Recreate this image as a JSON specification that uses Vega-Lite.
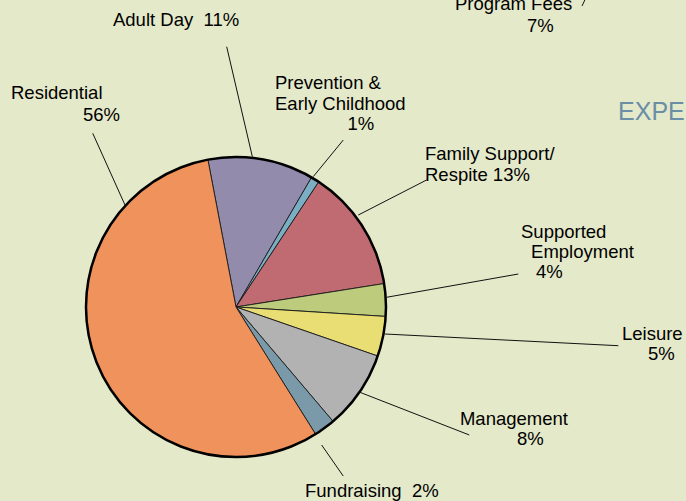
{
  "$schema": "https://vega.github.io/schema/vega-lite/v6.json",
  "width": 686,
  "height": 501,
  "padding": 0,
  "autosize": {"type": "none"},
  "background": "#E4E9C9",
  "config": {"view": {"stroke": null}},
  "datasets": {
    "slices": [
      {"category": "Adult Day", "value": 11.4, "order": 1},
      {"category": "Prevention & Early Childhood", "value": 0.9, "order": 2},
      {"category": "Family Support/Respite", "value": 13.2, "order": 3},
      {"category": "Supported Employment", "value": 3.5, "order": 4},
      {"category": "Leisure", "value": 4.3, "order": 5},
      {"category": "Management", "value": 8.5, "order": 6},
      {"category": "Fundraising", "value": 2.3, "order": 7},
      {"category": "Residential", "value": 55.9, "order": 8}
    ],
    "labels": [
      {"text": "Adult Day\u00a0 11%", "u": -82.0, "v": 187.3},
      {"text": "Residential", "u": -150.0, "v": 138.5},
      {"text": "56%", "u": -102.0, "v": 124.2},
      {"text": "Prevention &", "u": 26.0, "v": 145.1},
      {"text": "Early Childhood", "u": 26.0, "v": 131.3},
      {"text": "1%", "u": 74.3, "v": 118.0},
      {"text": "Family Support/", "u": 126.0, "v": 98.0},
      {"text": "Respite 13%", "u": 126.0, "v": 84.2},
      {"text": "Supported", "u": 190.0, "v": 46.0},
      {"text": "Employment", "u": 196.7, "v": 32.7},
      {"text": "4%", "u": 200.0, "v": 19.3},
      {"text": "Leisure", "u": 257.3, "v": -22.0},
      {"text": "5%", "u": 274.7, "v": -35.3},
      {"text": "Management", "u": 149.3, "v": -78.7},
      {"text": "8%", "u": 187.3, "v": -92.0},
      {"text": "Fundraising\u00a0 2%", "u": 46.0, "v": -126.7},
      {"text": "Program Fees", "u": 146.0, "v": 198.0},
      {"text": "7%", "u": 194.0, "v": 183.3}
    ],
    "leaders": [
      {"u": -95.5, "v": 115.8, "u2": -74.0, "v2": 68.0},
      {"u": -6.2, "v": 173.5, "u2": 10.9, "v2": 100.2},
      {"u": 71.5, "v": 111.3, "u2": 51.5, "v2": 86.9},
      {"u": 127.1, "v": 84.7, "u2": 81.5, "v2": 61.3},
      {"u": 188.2, "v": 22.0, "u2": 100.5, "v2": 6.5},
      {"u": 254.9, "v": -25.8, "u2": 99.3, "v2": -18.0},
      {"u": 155.5, "v": -85.3, "u2": 82.7, "v2": -56.9},
      {"u": 71.5, "v": -112.7, "u2": 57.1, "v2": -92.0},
      {"u": 232.7, "v": 205.0, "u2": 230.7, "v2": 200.7}
    ],
    "title": [{"text": "EXPE", "u": 254.7, "v": 124.7}]
  },
  "layer": [
    {
      "data": {"name": "leaders"},
      "mark": {"type": "rule", "stroke": "#111111", "strokeWidth": 1},
      "encoding": {
        "x": {"field": "u", "type": "quantitative", "scale": {"domain": [-157.33, 300], "nice": false, "zero": false}, "axis": null},
        "y": {"field": "v", "type": "quantitative", "scale": {"domain": [-129.33, 204.67], "nice": false, "zero": false}, "axis": null},
        "x2": {"field": "u2"},
        "y2": {"field": "v2"}
      }
    },
    {
      "data": {"name": "slices"},
      "mark": {"type": "arc", "outerRadius": 150, "stroke": "#1a1a1a", "strokeWidth": 0.9},
      "encoding": {
        "x": {"datum": 0, "type": "quantitative", "scale": {"domain": [-157.33, 300], "nice": false, "zero": false}, "axis": null},
        "y": {"datum": 0, "type": "quantitative", "scale": {"domain": [-129.33, 204.67], "nice": false, "zero": false}, "axis": null},
        "theta": {"field": "value", "type": "quantitative", "stack": true, "scale": {"range": [-0.1885, 6.0947]}},
        "order": {"field": "order", "type": "quantitative"},
        "color": {
          "field": "category",
          "type": "nominal",
          "legend": null,
          "scale": {
            "domain": ["Adult Day", "Prevention & Early Childhood", "Family Support/Respite", "Supported Employment", "Leisure", "Management", "Fundraising", "Residential"],
            "range": ["#928BAB", "#7AAEC4", "#C06B71", "#BCCB7C", "#E9DE74", "#B2B2B2", "#7B9AA9", "#F0925B"]
          }
        }
      }
    },
    {
      "data": {"values": [{"c": 0}]},
      "mark": {"type": "arc", "outerRadius": 150, "theta": 0, "theta2": 6.2832, "filled": false, "stroke": "#000000", "strokeWidth": 2.5},
      "encoding": {
        "x": {"datum": 0, "type": "quantitative", "scale": {"domain": [-157.33, 300], "nice": false, "zero": false}, "axis": null},
        "y": {"datum": 0, "type": "quantitative", "scale": {"domain": [-129.33, 204.67], "nice": false, "zero": false}, "axis": null}
      }
    },
    {
      "data": {"name": "labels"},
      "mark": {"type": "text", "align": "left", "baseline": "alphabetic", "font": "Liberation Sans", "fontSize": 18.5, "color": "#000000"},
      "encoding": {
        "x": {"field": "u", "type": "quantitative", "scale": {"domain": [-157.33, 300], "nice": false, "zero": false}, "axis": null},
        "y": {"field": "v", "type": "quantitative", "scale": {"domain": [-129.33, 204.67], "nice": false, "zero": false}, "axis": null},
        "text": {"field": "text"}
      }
    },
    {
      "data": {"name": "title"},
      "mark": {"type": "text", "align": "left", "baseline": "alphabetic", "font": "Liberation Sans", "fontSize": 25, "color": "#6A8EA6"},
      "encoding": {
        "x": {"field": "u", "type": "quantitative", "scale": {"domain": [-157.33, 300], "nice": false, "zero": false}, "axis": null},
        "y": {"field": "v", "type": "quantitative", "scale": {"domain": [-129.33, 204.67], "nice": false, "zero": false}, "axis": null},
        "text": {"field": "text"}
      }
    }
  ]
}
